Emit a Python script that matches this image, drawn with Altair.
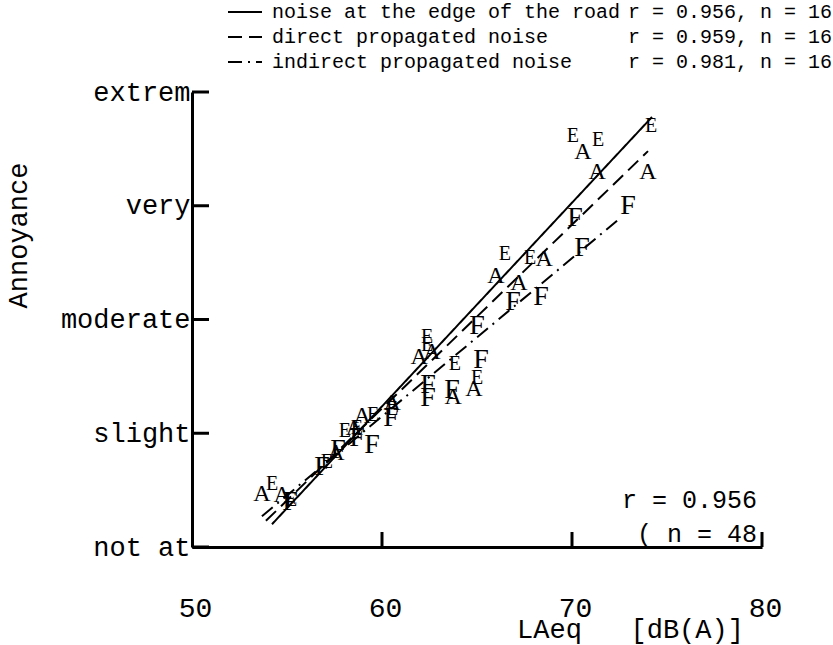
import altair as alt
import pandas as pd

# ---- data ----
E_laeq = [70.05, 71.37, 74.16, 66.47, 67.79, 62.37, 62.37, 63.84, 65.0, 60.53, 59.53, 58.05, 58.68, 57.1, 54.21, 55.21]
E_annoy = [3.61, 3.58, 3.70, 2.58, 2.54, 1.85, 1.78, 1.61, 1.49, 1.21, 1.16, 1.02, 1.05, 0.75, 0.55, 0.41]
A_laeq = [70.58, 71.32, 74.0, 68.53, 66.0, 67.21, 61.95, 62.63, 64.84, 63.74, 60.53, 58.95, 58.53, 57.58, 53.68, 54.74]
A_annoy = [3.47, 3.30, 3.30, 2.53, 2.38, 2.32, 1.67, 1.71, 1.39, 1.32, 1.27, 1.15, 1.05, 0.83, 0.47, 0.46]
F_laeq = [70.16, 72.95, 70.53, 66.89, 68.37, 65.0, 65.21, 62.42, 62.42, 63.68, 60.47, 59.47, 58.68, 56.84, 55.16, 57.68]
F_annoy = [2.89, 3.0, 2.63, 2.15, 2.2, 1.94, 1.64, 1.42, 1.31, 1.38, 1.13, 0.90, 0.96, 0.70, 0.40, 0.85]

fit_series = ["edge", "direct", "indirect"]
fit_laeq_start = [54.21, 53.89, 53.68]
fit_laeq_end = [74.21, 74.0, 72.53]
fit_annoy_start = [0.20, 0.23, 0.27]
fit_annoy_end = [3.78, 3.48, 2.89]

legend_names = ["noise at the edge of the road", "direct propagated noise", "indirect propagated noise"]
legend_stats = ["r = 0.956, n = 16", "r = 0.959, n = 16", "r = 0.981, n = 16"]

y_ticks = [0, 1, 2, 3, 4]
y_labels = ["not at", "slight", "moderate", "very", "extrem"]
x_ticks = [50, 60, 70, 80]
x_title = "LAeq\u00a0\u00a0\u00a0[dB(A)]"
overall_r = "r = 0.956"
overall_n = "( n = 48"

# ---- tables ----
pts = pd.DataFrame({
    "laeq": E_laeq + A_laeq + F_laeq,
    "annoy": E_annoy + A_annoy + F_annoy,
    "letter": ["E"] * len(E_laeq) + ["A"] * len(A_laeq) + ["F"] * len(F_laeq),
})
fits = pd.DataFrame({
    "series": fit_series * 2,
    "laeq": fit_laeq_start + fit_laeq_end,
    "annoy": fit_annoy_start + fit_annoy_end,
})

W, H = 570, 455
MONO = "Liberation Mono"
dashes = [[1, 0], [14, 7], [14, 6, 2, 6]]

xscale = alt.Scale(domain=[50, 80], nice=False, zero=False)
yscale = alt.Scale(domain=[0, 4], nice=False, zero=False)

label_js = "[" + ",".join("'%s'" % s for s in y_labels) + "][datum.value]"

xaxis = alt.Axis(values=x_ticks, ticks=False, tickSize=0, grid=False, domainWidth=3,
                 domainColor="black", labelFont=MONO, labelFontSize=28, labelColor="black",
                 labelBaseline="middle", labelPadding=61, labelFlush=False, labelOffset=3,
                 title=x_title, titleFont=MONO, titleFontSize=27, titleFontWeight="normal",
                 titleColor="black", titleX=438, titleY=82, titleBaseline="middle", titleAlign="center")
yaxis = alt.Axis(values=y_ticks, ticks=False, tickSize=0, grid=False, domainWidth=3,
                 domainColor="black", labelExpr=label_js, labelFont=MONO, labelFontSize=27,
                 labelColor="black", labelPadding=2, labelFlush=False,
                 title="Annoyance", titleFont=MONO, titleFontSize=27, titleFontWeight="normal",
                 titleColor="black", titleX=-174, titleY=143, titleAngle=270,
                 titleAlign="center", titleBaseline="middle")

X = lambda f: alt.X(f, type="quantitative", scale=xscale, axis=xaxis)
Y = lambda f: alt.Y(f, type="quantitative", scale=yscale, axis=yaxis)

lines = alt.Chart(fits).mark_line(color="black", strokeWidth=2).encode(
    x=X("laeq"), y=Y("annoy"), detail="series:N",
    strokeDash=alt.StrokeDash("series:N", scale=alt.Scale(domain=fit_series, range=dashes), legend=None),
)

letters = alt.Chart(pts).mark_text(font="Liberation Serif", align="center", baseline="middle",
                                   color="black").encode(
    x=X("laeq"), y=Y("annoy"), text="letter:N",
    size=alt.Size("letter:N", scale=alt.Scale(domain=["E", "A", "F"], range=[20, 28, 28]), legend=None),
)

ytick_rules = alt.Chart(pd.DataFrame({"v": y_ticks})).mark_rule(color="black", strokeWidth=3).encode(
    y=Y("v"), x=alt.value(0), x2=alt.value(17))
xtick_rules = alt.Chart(pd.DataFrame({"v": x_ticks[1:]})).mark_rule(color="black", strokeWidth=3).encode(
    x=X("v"), y=alt.value(H), y2=alt.value(H - 15))

layers = [lines, letters, ytick_rules, xtick_rules]

# legend (manual, above the plot)
for i, (name, stat) in enumerate(zip(legend_names, legend_stats)):
    yy = -80 + 25 * i
    layers.append(alt.Chart(pd.DataFrame({"k": [0]})).mark_rule(color="black", strokeWidth=2,
                                                                strokeDash=dashes[i]).encode(
        x=alt.value(36), x2=alt.value(70), y=alt.value(yy)))
    layers.append(alt.Chart(pd.DataFrame({"k": [0]})).mark_text(
        font=MONO, fontSize=20, align="left", baseline="middle", color="black").encode(
        x=alt.value(80), y=alt.value(yy), text=alt.value(name)))
    layers.append(alt.Chart(pd.DataFrame({"k": [0]})).mark_text(
        font=MONO, fontSize=20, align="right", baseline="middle", color="black").encode(
        x=alt.value(640), y=alt.value(yy), text=alt.value(stat)))

layers.append(alt.Chart(pd.DataFrame({"k": [0]})).mark_text(
    font=MONO, fontSize=25, align="right", baseline="middle", color="black").encode(
    x=alt.value(565), y=alt.value(408), text=alt.value(overall_r)))
layers.append(alt.Chart(pd.DataFrame({"k": [0]})).mark_text(
    font=MONO, fontSize=25, align="right", baseline="middle", color="black").encode(
    x=alt.value(565), y=alt.value(442), text=alt.value(overall_n)))

chart = alt.layer(*layers).properties(
    width=W, height=H,
    autosize=alt.AutoSizeParams(type="none"),
    padding={"left": 192, "top": 92, "right": 71, "bottom": 98},
    background="white",
).configure_view(strokeWidth=0)

chart.save("out.html", embed_options={"renderer": "svg", "actions": False})
